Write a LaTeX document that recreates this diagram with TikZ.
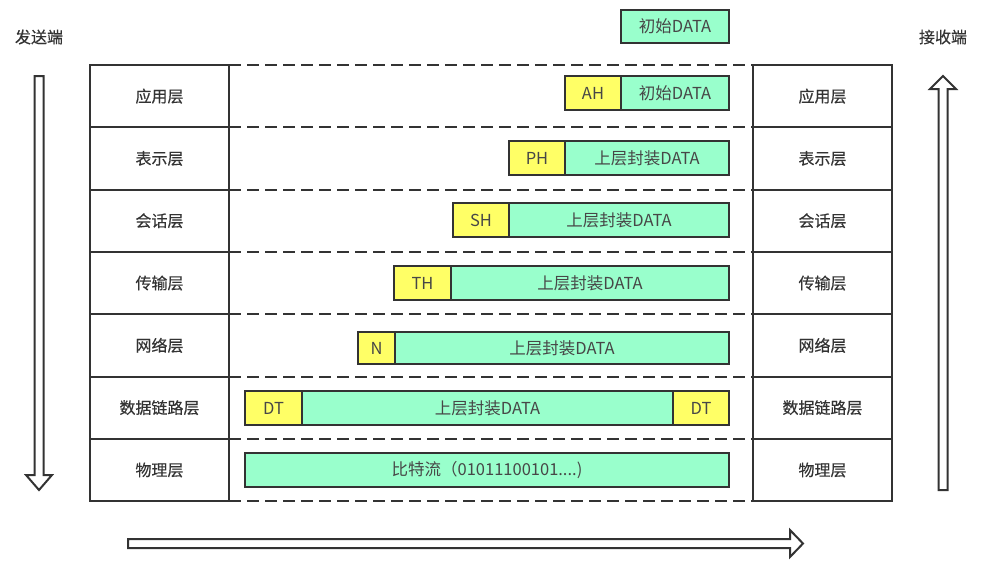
\documentclass[tikz,border=0pt]{standalone}
\usepackage{fontspec}
\setmainfont{Noto Sans CJK SC}
\newfontfamily\labfont[FakeBold=0.4]{Noto Sans CJK SC}
\definecolor{linec}{HTML}{333333}
\definecolor{txtc}{HTML}{333333}
\definecolor{grn}{HTML}{99FFCC}
\definecolor{yel}{HTML}{FFFF66}
\begin{document}
\begin{tikzpicture}[x=1pt,y=-1pt,
  layer/.style={draw=linec, line width=2pt, minimum width=139pt, minimum height=62.3pt, inner sep=0pt, outer sep=0pt, anchor=north west, text=txtc, font=\labfont\fontsize{16}{19}\selectfont},
  pkt/.style={draw=linec, line width=2pt, inner sep=0pt, outer sep=0pt, text=txtc!90, font=\fontsize{16.5}{19}\selectfont},
  hdr/.style={pkt, fill=yel},
  dat/.style={pkt, fill=grn},
  dashline/.style={draw=linec, line width=2pt, dash pattern=on 12pt off 6pt},
  blockarrow/.style={draw=linec, line width=2pt, fill=white, line join=miter},
  side/.style={text=txtc, font=\labfont\fontsize{16}{19}\selectfont}
]
\useasboundingbox (0,0) rectangle (998,560);

% side labels
\node[side] (send) at (39,37) {发送端};
\node[side] (recv) at (943,37) {接收端};

% layer boxes
\foreach \i/\t/\y in {1/应用层/65, 2/表示层/127.3, 3/会话层/189.6, 4/传输层/251.9, 5/网络层/314.2, 6/数据链路层/376.5, 7/物理层/438.8}{
  \node[layer] (L\i) at (90,\y) {\t};
  \node[layer] (R\i) at (753,\y) {\t};
}

% dashed separators
\foreach \i in {1,...,7}{
  \draw[dashline] (L\i.north east) -- (R\i.north west);
}
\draw[dashline] (L7.south east) -- (R7.south west);

% top data
\node[dat, minimum width=108pt, minimum height=33pt] (d0) at (675,26.5) {初始DATA};

% row 1
\node[hdr, minimum width=56pt, minimum height=34pt] (h1) at (593,93) {AH};
\node[dat, minimum width=108pt, minimum height=34pt] (d1) at (675,93) {初始DATA};
% row 2
\node[hdr, minimum width=56pt, minimum height=34pt] (h2) at (537,158) {PH};
\node[dat, minimum width=164pt, minimum height=34pt] (d2) at (647,158) {上层封装DATA};
% row 3
\node[hdr, minimum width=56pt, minimum height=34pt] (h3) at (481,220) {SH};
\node[dat, minimum width=220pt, minimum height=34pt] (d3) at (619,220) {上层封装DATA};
% row 4
\node[hdr, minimum width=57pt, minimum height=34pt] (h4) at (422.5,283) {TH};
\node[dat, minimum width=278pt, minimum height=34pt] (d4) at (590,283) {上层封装DATA};
% row 5
\node[hdr, minimum width=37pt, minimum height=32pt] (h5) at (376.5,348) {N};
\node[dat, minimum width=334pt, minimum height=32pt] (d5) at (562,348) {上层封装DATA};
% row 6
\node[hdr, minimum width=57pt, minimum height=34pt] (h6) at (273.5,408) {DT};
\node[dat, minimum width=371pt, minimum height=34pt] (d6) at (487.5,408) {上层封装DATA};
\node[hdr, minimum width=56pt, minimum height=34pt] (t6) at (701,408) {DT};
% row 7
\node[dat, minimum width=484pt, minimum height=34pt] (d7) at (487,470) {比特流（01011100101....)};

% block arrows
\draw[blockarrow] (34.5,76) -- (43.5,76) -- (43.5,475) -- (52,475) -- (39,490) -- (26,475) -- (34.5,475) -- cycle;
\draw[blockarrow] (938.5,490) -- (947.5,490) -- (947.5,89) -- (956,89) -- (943,76) -- (930,89) -- (938.5,89) -- cycle;
\draw[blockarrow] (128,539) -- (790,539) -- (790,530) -- (803,543.5) -- (790,557) -- (790,548) -- (128,548) -- cycle;
\end{tikzpicture}
\end{document}
